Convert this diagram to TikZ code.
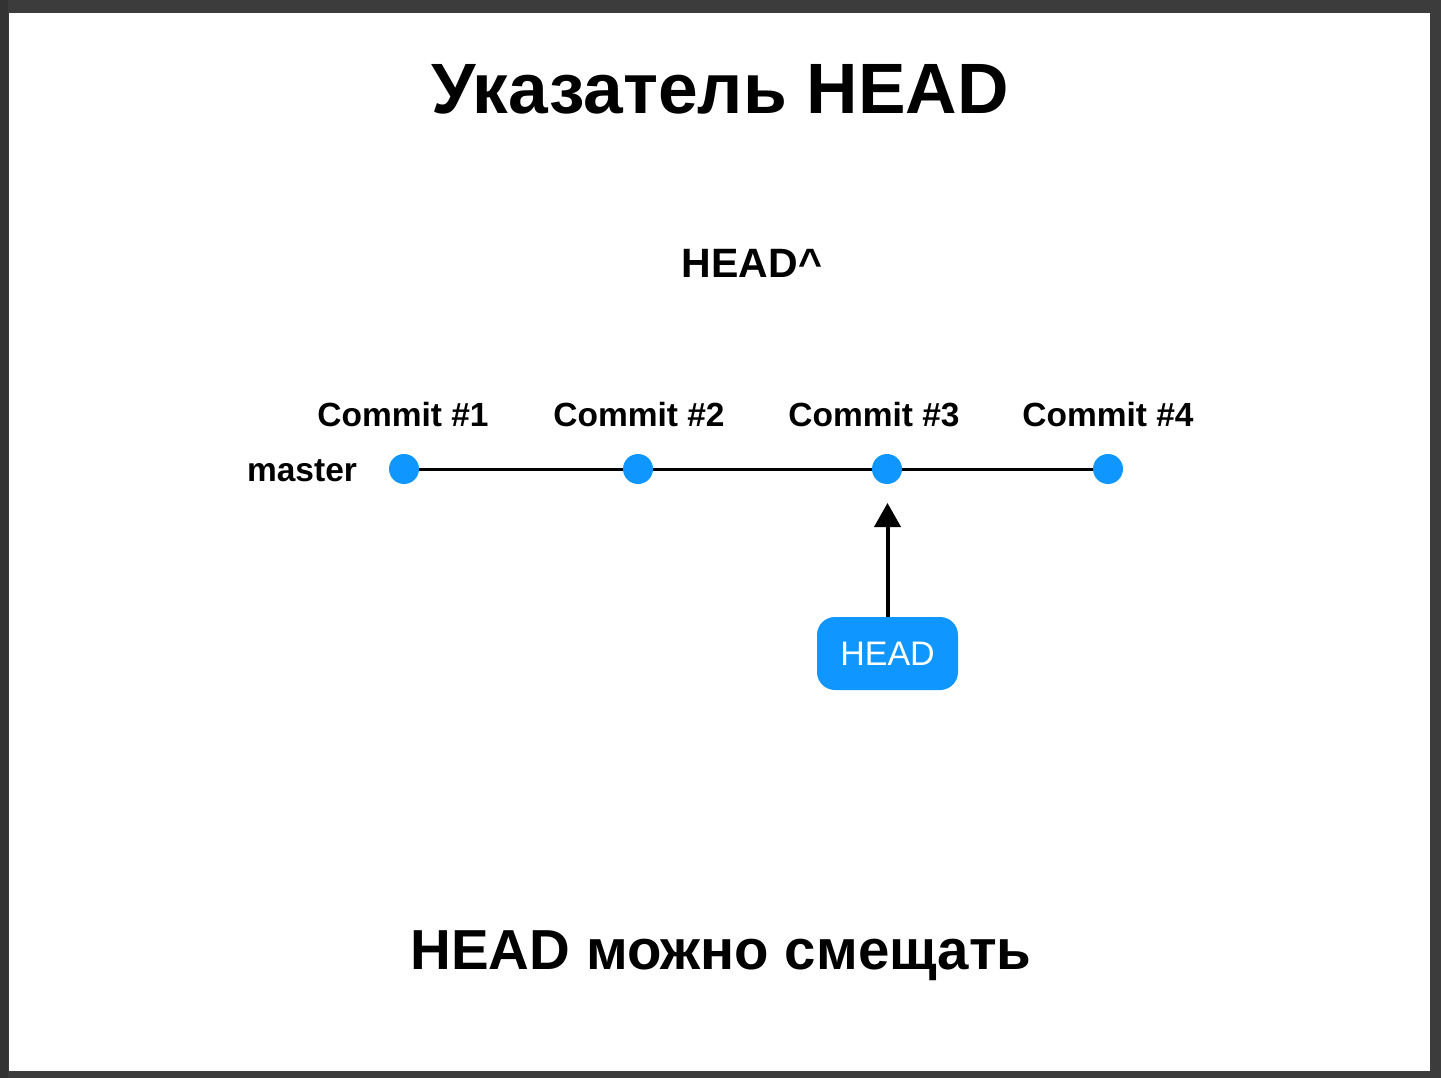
\documentclass[tikz,border=0pt]{standalone}
\usepackage{fontspec}
\setmainfont{Liberation Sans}
\usetikzlibrary{arrows.meta}
\definecolor{frame}{HTML}{3C3C3C}
\definecolor{gitblue}{HTML}{0F96FF}
\begin{document}
\begin{tikzpicture}[x=1pt,y=-1pt,
  commitdot/.style={circle,fill=gitblue,minimum size=30pt,inner sep=0pt},
  label/.style={font=\fontsize{33.5}{40}\selectfont\bfseries,anchor=base},
  headbox/.style={rounded corners=18pt,fill=gitblue,text=white,minimum width=141pt,minimum height=73pt,inner sep=0pt,font=\fontsize{34}{40}\selectfont}]
\useasboundingbox (0,0) rectangle (1441,1078);
\fill[frame] (0,0) rectangle (1441,1078);
\fill[black!80] (0,0) rectangle (8,1078);
\fill[white] (9,13) rectangle (1430,1071);
\node[anchor=base,font=\fontsize{71.3}{80}\selectfont\bfseries] (title) at (720,114) {Указатель HEAD};
\node[anchor=base,font=\fontsize{41}{48}\selectfont\bfseries] (caret) at (752,278) {HEAD\^{}};
\node[label] (l1) at (403,426) {Commit \#1};
\node[label] (l2) at (639,426) {Commit \#2};
\node[label] (l3) at (874,426) {Commit \#3};
\node[label] (l4) at (1108,426) {Commit \#4};
\node[label] (master) at (302,481) {master};
\node[commitdot] (c1) at (404,469) {};
\node[commitdot] (c2) at (638,469) {};
\node[commitdot] (c3) at (887,469) {};
\node[commitdot] (c4) at (1108,469) {};
\draw[line width=3pt] (c1) -- (c2);
\draw[line width=3pt] (c2) -- (c3);
\draw[line width=3pt] (c3) -- (c4);
\node[headbox] (head) at (887.5,653.5) {HEAD};
\coordinate (tip) at (887.5,503);
\draw[line width=4pt,-{Triangle[length=24pt,width=26pt]}] (head.north) -- (tip);
\node[anchor=base,font=\fontsize{56.4}{64}\selectfont\bfseries] (bottom) at (721,969) {HEAD можно смещать};
\end{tikzpicture}
\end{document}
